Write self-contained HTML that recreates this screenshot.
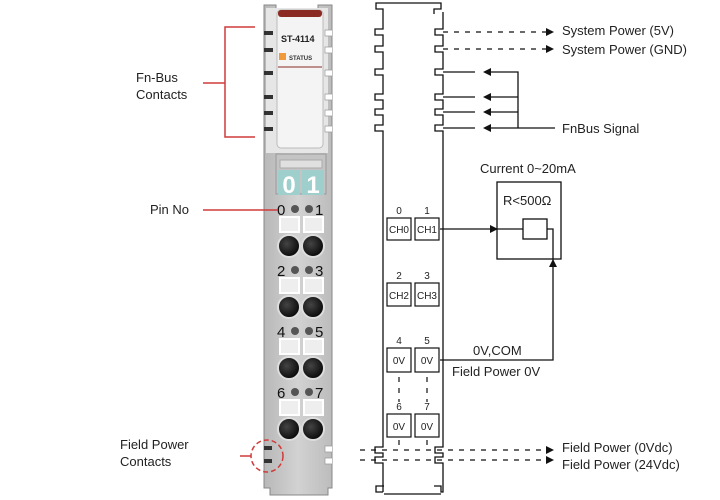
<!DOCTYPE html>
<html><head><meta charset="utf-8"><style>
html,body{margin:0;padding:0;background:#fff}
svg{display:block}
text{font-family:"Liberation Sans",sans-serif}
</style></head><body>
<svg width="720" height="500" viewBox="0 0 720 500" xmlns="http://www.w3.org/2000/svg">
<defs>
<linearGradient id="bd" x1="0" x2="1"><stop offset="0" stop-color="#b8b8b8"/><stop offset="0.5" stop-color="#d2d2d2"/><stop offset="1" stop-color="#bcbcbc"/></linearGradient>
<radialGradient id="hole" cx="0.4" cy="0.4" r="0.7"><stop offset="0" stop-color="#444"/><stop offset="1" stop-color="#000"/></radialGradient>
</defs>
<!-- Left module body -->
<path d="M264 5 H276 V12 H318 V5 H332 V488 H328 V495 H270 V488 H264 Z" fill="url(#bd)" stroke="#888" stroke-width="1"/>
<rect x="266" y="8" width="62" height="145" fill="#e6e6e6"/>
<rect x="277" y="10" width="46" height="138" rx="4" fill="#f4f4f4" stroke="#bbb"/>
<rect x="278" y="10" width="44" height="7" rx="3" fill="#8a2a22"/>
<text x="281" y="42" font-size="9" font-weight="bold" fill="#222">ST-4114</text>
<rect x="279" y="53" width="7" height="7" fill="#f09a3c"/>
<text x="289" y="60" font-size="6" font-weight="bold" fill="#333">STATUS</text>
<line x1="278" y1="67" x2="322" y2="67" stroke="#8a2a22" stroke-width="1"/>
<!-- left contacts -->
<g fill="#333">
<rect x="264" y="31" width="9" height="4"/><rect x="264" y="48" width="9" height="4"/><rect x="264" y="71" width="9" height="4"/><rect x="264" y="95" width="9" height="4"/><rect x="264" y="111" width="9" height="4"/><rect x="264" y="127" width="9" height="4"/>
<rect x="264" y="446" width="8" height="4"/><rect x="264" y="459" width="8" height="4"/>
</g>
<g fill="#fff" stroke="#999" stroke-width="0.7">
<path d="M332 30 H325 V36 H332"/><path d="M332 47 H325 V53 H332"/><path d="M332 70 H325 V76 H332"/><path d="M332 94 H325 V100 H332"/><path d="M332 110 H325 V116 H332"/><path d="M332 126 H325 V132 H332"/>
<path d="M332 446 H325 V452 H332"/><path d="M332 458 H325 V464 H332"/>
</g>
<!-- connector -->
<rect x="276" y="154" width="50" height="40" fill="#c4c4c4" stroke="#999"/>
<rect x="280" y="160" width="42" height="8" fill="#e0e0e0" stroke="#aaa"/>
<rect x="278" y="170" width="22" height="25" fill="#9fcfcc"/>
<rect x="302" y="170" width="22" height="25" fill="#9fcfcc"/>
<text x="289" y="193" font-size="24" font-weight="bold" fill="#fff" text-anchor="middle">0</text>
<text x="313" y="193" font-size="24" font-weight="bold" fill="#fff" text-anchor="middle">1</text>
<g id="row">
<circle cx="295" cy="209" r="4" fill="#555"/><circle cx="309" cy="209" r="4" fill="#555"/>
<rect x="280" y="217" width="19" height="15" fill="#eee" stroke="#fff" stroke-width="2"/>
<rect x="304" y="217" width="19" height="15" fill="#eee" stroke="#fff" stroke-width="2"/>
<circle cx="289" cy="246" r="11" fill="url(#hole)" stroke="#ddd" stroke-width="2"/>
<circle cx="313" cy="246" r="11" fill="url(#hole)" stroke="#ddd" stroke-width="2"/>
</g>
<use href="#row" y="61"/><use href="#row" y="122"/><use href="#row" y="183"/>
<g font-size="15" fill="#111">
<text x="277" y="215">0</text><text x="315" y="215">1</text>
<text x="277" y="276">2</text><text x="315" y="276">3</text>
<text x="277" y="337">4</text><text x="315" y="337">5</text>
<text x="277" y="398">6</text><text x="315" y="398">7</text>
</g>
<!-- red annotations -->
<g stroke="#d03a3a" stroke-width="1.5" fill="none">
<path d="M255 27 H225 V137 H255"/><line x1="203" y1="83" x2="225" y2="83"/>
<line x1="203" y1="210" x2="278" y2="210"/>
<circle cx="267" cy="456" r="16" stroke-dasharray="5,3"/>
<line x1="240" y1="456" x2="251" y2="456"/>
</g>
<g font-size="13" fill="#222">
<text x="136" y="82">Fn-Bus</text><text x="136" y="99">Contacts</text>
<text x="150" y="214">Pin No</text>
<text x="120" y="449">Field Power</text><text x="120" y="466">Contacts</text>
</g>
<!-- schematic -->
<g stroke="#111" stroke-width="1.3" fill="none">
<path d="M383 492 V463 H375 V457 H383 V453 H375 V447 H383 V131 H375 V125 H383 V115 H375 V109 H383 V100 H375 V94 H383 V75 H375 V69 H383 V52 H375 V46 H383 V35 H375 V29 H383 V9 H376 V3 H441 V9 H434 V14"/>
<path d="M443 12 V29 H435 V35 H443 V46 H435 V52 H443 V69 H435 V75 H443 V94 H435 V100 H443 V109 H435 V115 H443 V125 H435 V131 H443 V447 H435 V453 H443 V457 H435 V463 H443 V492 H441 V486 H434"/>
<path d="M383 492 H376 V486 H384"/>
<line x1="384" y1="494" x2="441" y2="494"/>
</g>
<g stroke="#111" stroke-width="1.2" fill="#fff">
<rect x="387" y="218" width="24" height="22"/><rect x="415" y="218" width="24" height="22"/>
<rect x="387" y="283" width="24" height="23"/><rect x="415" y="283" width="24" height="23"/>
<rect x="387" y="348" width="24" height="24"/><rect x="415" y="348" width="24" height="24"/>
<rect x="387" y="414" width="24" height="23"/><rect x="415" y="414" width="24" height="23"/>
</g>
<g font-size="10" fill="#222" text-anchor="middle">
<text x="399" y="233">CH0</text><text x="427" y="233">CH1</text>
<text x="399" y="299">CH2</text><text x="427" y="299">CH3</text>
<text x="399" y="364">0V</text><text x="427" y="364">0V</text>
<text x="399" y="430">0V</text><text x="427" y="430">0V</text>
<text x="399" y="214">0</text><text x="427" y="214">1</text>
<text x="399" y="279">2</text><text x="427" y="279">3</text>
<text x="399" y="344">4</text><text x="427" y="344">5</text>
<text x="399" y="410">6</text><text x="427" y="410">7</text>
</g>
<g stroke="#111" stroke-width="1.2" stroke-dasharray="5,6">
<line x1="399" y1="377" x2="399" y2="402"/><line x1="427" y1="377" x2="427" y2="402"/>
<line x1="399" y1="440" x2="399" y2="447"/><line x1="427" y1="440" x2="427" y2="447"/>
<line x1="443" y1="32" x2="548" y2="32"/><line x1="443" y1="49" x2="548" y2="49"/>
<line x1="360" y1="450" x2="548" y2="450"/><line x1="360" y1="460" x2="548" y2="460"/>
</g>
<g stroke="#111" stroke-width="1.3" fill="none">
<line x1="443" y1="72" x2="475" y2="72"/><line x1="443" y1="97" x2="475" y2="97"/>
<line x1="443" y1="112" x2="475" y2="112"/><line x1="443" y1="128" x2="475" y2="128"/>
<path d="M485 72 H518 V128 M485 97 H518 M485 112 H518 M485 128 H555"/>
<rect x="497" y="182" width="64" height="77"/>
<rect x="523" y="219" width="24" height="20"/>
<path d="M440 229 H523 M547 229 H553 V360 H440"/>
</g>
<g fill="#111">
<path d="M554 32 l-8 -4 v8 z"/><path d="M554 49 l-8 -4 v8 z"/>
<path d="M554 450 l-8 -4 v8 z"/><path d="M554 460 l-8 -4 v8 z"/>
<path d="M483 72 l8 -4 v8 z"/><path d="M483 97 l8 -4 v8 z"/><path d="M483 112 l8 -4 v8 z"/><path d="M483 128 l8 -4 v8 z"/>
<path d="M498 229 l-8 -4 v8 z"/>
<path d="M553 259 l-4 8 h8 z"/>
</g>
<g font-size="13" fill="#222">
<text x="562" y="35">System Power (5V)</text>
<text x="562" y="54">System Power (GND)</text>
<text x="562" y="133">FnBus Signal</text>
<text x="480" y="173">Current 0~20mA</text>
<text x="503" y="205">R&lt;500Ω</text>
<text x="473" y="355">0V,COM</text>
<text x="452" y="376">Field Power 0V</text>
<text x="562" y="452">Field Power (0Vdc)</text>
<text x="562" y="469">Field Power (24Vdc)</text>
</g>
</svg>
</body></html>
